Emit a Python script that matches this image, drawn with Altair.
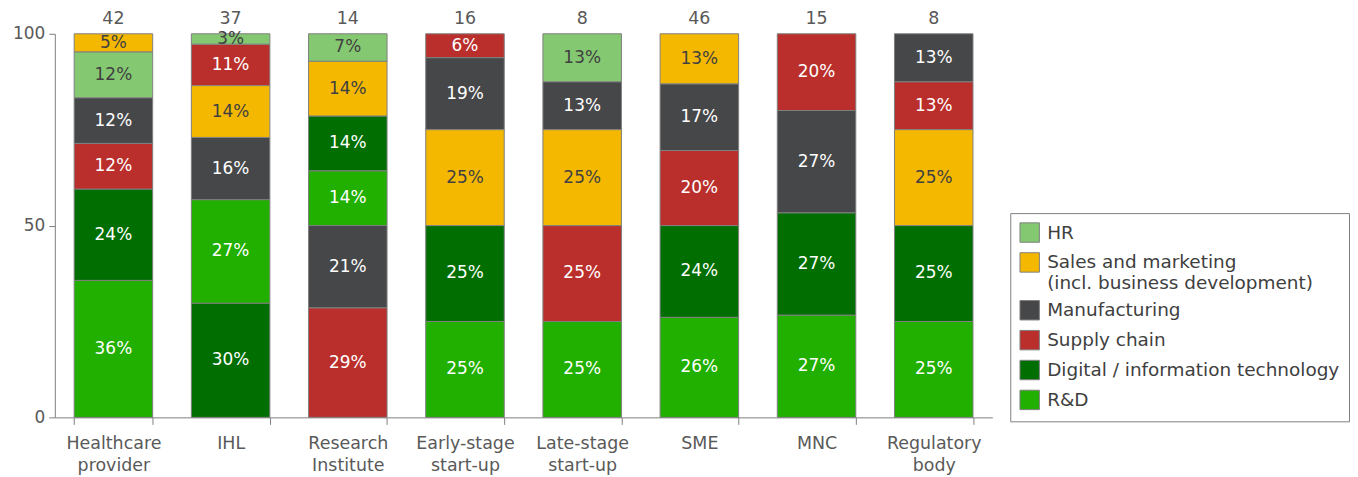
import altair as alt
import pandas as pd

categories = ["Healthcare provider", "IHL", "Research Institute", "Early-stage start-up",
              "Late-stage start-up", "SME", "MNC", "Regulatory body"]
totals = [42, 37, 14, 16, 8, 46, 15, 8]
series = ["R&D", "Digital / information technology", "Supply chain", "Manufacturing",
          "Sales and marketing (incl. business development)", "HR"]
colors = ["#21af00", "#006e00", "#ba2f2c", "#464749", "#f5b800", "#85c872"]
text_colors = ["white", "white", "white", "white", "#404040", "#404040"]

# respondent counts per category (share = count / total)
rnd = [15, 10, 2, 4, 2, 12, 4, 2]
digital = [10, 11, 2, 4, 0, 11, 4, 2]
supply = [5, 4, 4, 1, 2, 9, 3, 1]
manuf = [5, 6, 3, 3, 1, 8, 4, 1]
sales = [2, 5, 2, 4, 2, 6, 0, 2]
hr = [5, 1, 1, 0, 1, 0, 0, 0]
counts = [rnd, digital, supply, manuf, sales, hr]

rows = []
for si, s in enumerate(series):
    for ci, c in enumerate(categories):
        n = counts[si][ci]
        if n > 0:
            rows.append({"cat": c, "series": s, "idx": si, "count": n,
                         "total": totals[ci], "tc": text_colors[si]})
df = pd.DataFrame(rows)
tot_df = pd.DataFrame({"cat": categories, "total": totals})

FONT = "DejaVu Sans"

base = alt.Chart(df).transform_calculate(
    pct="datum.count / datum.total * 100"
).transform_stack(
    stack="pct", groupby=["cat"],
    sort=[alt.SortField("count", order="descending"), alt.SortField("idx", order="ascending")],
    as_=["y0", "y1"]
)

x_enc = alt.X("cat:N", sort=categories, title=None,
              scale=alt.Scale(paddingInner=0.33, paddingOuter=0.165),
              axis=alt.Axis(labelAngle=0, tickBand="extent", labelExpr="split(datum.label, ' ')",
                            labelFontSize=17.5, labelColor="#595959", labelFont=FONT,
                            domainColor="#808080", tickColor="#808080", tickSize=7,
                            labelPadding=10, labelLineHeight=22))

legend_order = list(reversed(series))
bars = base.mark_bar(stroke="#7f7f7f", strokeWidth=1).encode(
    x=x_enc,
    y=alt.Y("y0:Q", title=None, scale=alt.Scale(domain=[0, 100], nice=False),
            axis=alt.Axis(values=[0, 50, 100], grid=False, labelFontSize=17, labelColor="#595959",
                          labelFont=FONT, domainColor="#808080", tickColor="#808080", tickSize=6,
                          labelPadding=4)),
    y2="y1:Q",
    color=alt.Color("series:N", scale=alt.Scale(domain=legend_order, range=list(reversed(colors))),
                    legend=alt.Legend(
                        title=None, orient="none", legendX=959, legendY=180,
                        symbolType="square", symbolSize=380, symbolStrokeColor="#7f7f7f",
                        symbolStrokeWidth=1, labelFontSize=18.5, labelColor="#404040", labelFont=FONT,
                        labelLimit=400, strokeColor="#7f7f7f", padding=9, rowPadding=5,
                        labelOffset=7,
                        labelExpr="datum.label == 'Sales and marketing (incl. business development)' ? ['Sales and marketing', '(incl. business development)'] : datum.label")),
)

labels = base.transform_calculate(
    mid="(datum.y0 + datum.y1) / 2",
    lab="format(datum.pct, '.0f') + '%'"
).mark_text(fontSize=17, font=FONT).encode(
    x=alt.X("cat:N", sort=categories),
    y=alt.Y("mid:Q"),
    text="lab:N",
    color=alt.Color("tc:N", scale=None),
)

tots = alt.Chart(tot_df).mark_text(fontSize=17.5, font=FONT, color="#595959", dy=-15).encode(
    x=alt.X("cat:N", sort=categories),
    y=alt.datum(100),
    text="total:Q",
)

chart = alt.layer(bars, labels, tots).properties(
    width=941, height=385,
    padding={"left": 4, "top": 1, "right": 0, "bottom": 5}
).configure_view(stroke=None)

chart.save("out.html", embed_options={"renderer": "svg", "actions": False})
